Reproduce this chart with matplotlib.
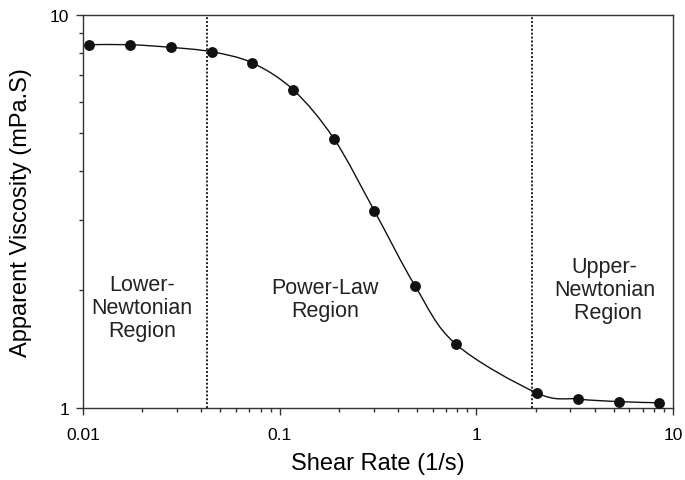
import numpy as np
import matplotlib
matplotlib.use("Agg")
import matplotlib.pyplot as plt
from matplotlib.path import Path
from matplotlib.patches import PathPatch
from matplotlib.ticker import NullFormatter

plt.rcParams['font.family'] = ['Liberation Sans', 'DejaVu Sans']

# --------------------
# Data
# --------------------
shear_rate = [0.0107, 0.0173, 0.0280, 0.0451, 0.0723, 0.117, 0.189,
              0.303, 0.489, 0.785, 2.03, 3.27, 5.31, 8.48]
viscosity = [8.38, 8.38, 8.25, 8.04, 7.54, 6.44, 4.83,
             3.17, 2.04, 1.454, 1.092, 1.054, 1.038, 1.031]

region_bounds = [0.0429, 1.93]
region_labels = ['Lower-\nNewtonian\nRegion', 'Power-Law\nRegion', 'Upper-\nNewtonian\n Region']
region_label_x = [0.0200, 0.170, 4.5]
region_label_y = [1.80, 1.89, 2.0]


def smooth_path(xs, ys):
    # Catmull-Rom through the points in log space, as cubic Bezier segments
    u = np.log10(xs)
    v = np.log10(ys)
    pts = np.column_stack([u, v])
    n = len(pts)
    verts = [pts[0]]
    codes = [Path.MOVETO]
    for i in range(n - 1):
        p0 = pts[max(i - 1, 0)]
        p1 = pts[i]
        p2 = pts[i + 1]
        p3 = pts[min(i + 2, n - 1)]
        c1 = p1 + (p2 - p0) / 6.0
        c2 = p2 - (p3 - p1) / 6.0
        verts += [c1, c2, p2]
        codes += [Path.CURVE4] * 3
    verts = 10 ** np.array(verts)
    return Path(verts, codes)


fig = plt.figure(figsize=(6.85, 4.81), dpi=100)
ax = fig.add_axes([83 / 685, (481 - 409) / 481, (673 - 83) / 685, (409 - 15.5) / 481])

ax.set_xscale('log')
ax.set_yscale('log')
ax.set_xlim(0.01, 10)
ax.set_ylim(1, 10)

# smooth line + markers
ax.add_patch(PathPatch(smooth_path(shear_rate, viscosity), facecolor='none',
                       edgecolor='#111111', lw=1.0, transform=ax.transData))
ax.plot(shear_rate, viscosity, 'o', color='#111111', markersize=6.8, zorder=3)

# region boundaries
for xb in region_bounds:
    ax.axvline(xb, color='#222222', lw=1.4, linestyle=(0, (1, 1)))

for lx, ly, txt in zip(region_label_x, region_label_y, region_labels):
    ax.text(lx, ly, txt, ha='center', va='center', fontsize=15.5,
            color='#222222', linespacing=1.12)

ax.set_xticks([0.01, 0.1, 1, 10])
ax.set_xticklabels(['0.01', '0.1', '1', '10'])
ax.set_yticks([1, 10])
ax.set_yticklabels(['1', '10'])
ax.xaxis.set_minor_formatter(NullFormatter())
ax.yaxis.set_minor_formatter(NullFormatter())
ax.tick_params(which='both', direction='out', color='#333333', labelsize=12.5)
ax.tick_params(which='major', length=5, width=1)
ax.tick_params(which='minor', length=3, width=1)
ax.tick_params(axis='x', pad=9)
ax.tick_params(axis='y', pad=5)

for s in ax.spines.values():
    s.set_color('#333333')
    s.set_linewidth(1.0)

ax.set_xlabel('Shear Rate (1/s)', fontsize=17, labelpad=7)
ax.set_ylabel('Apparent Viscosity (mPa.S)', fontsize=17, labelpad=13)

fig.savefig('out.png', dpi=100)
